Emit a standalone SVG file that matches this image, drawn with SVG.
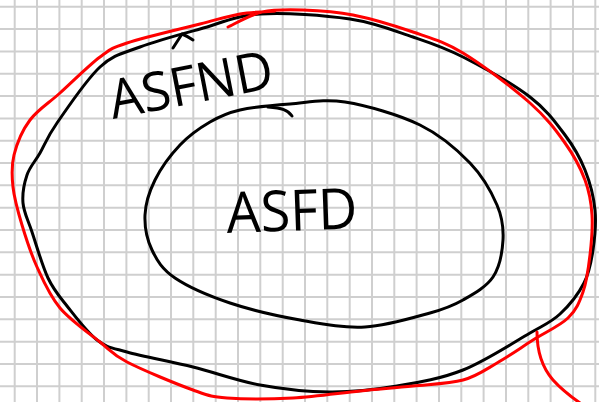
<svg xmlns="http://www.w3.org/2000/svg" width="599" height="402" viewBox="0 0 599 402">
  <style>
    .grid { stroke: #cfcfcf; stroke-width: 2; fill: none; }
    .ink { fill: none; stroke: #000; stroke-width: 3; stroke-linecap: round; stroke-linejoin: round; }
    .red { fill: none; stroke: #ff0000; stroke-width: 3; stroke-linecap: round; stroke-linejoin: round; }
    .label { font-family: "Open Sans", "Liberation Sans", sans-serif; font-weight: 400; fill: #000; }
  </style>
  <rect width="599" height="402" fill="#ffffff"/>
  <!-- squared paper -->
  <path class="grid" d="M14.7 0V402M37 0V402M59.4 0V402M81.7 0V402M104 0V402M126.4 0V402M148.7 0V402M171 0V402M193.3 0V402M215.7 0V402M238 0V402M260.3 0V402M282.7 0V402M305 0V402M327.3 0V402M349.7 0V402M372 0V402M394.3 0V402M416.6 0V402M439 0V402M461.3 0V402M483.6 0V402M506 0V402M528.3 0V402M550.6 0V402M573 0V402M595.3 0V402
    M0 6.7H599M0 29H599M0 51.4H599M0 73.7H599M0 96H599M0 118.4H599M0 140.7H599M0 163H599M0 185.3H599M0 207.7H599M0 230H599M0 252.3H599M0 274.7H599M0 297H599M0 319.3H599M0 341.7H599M0 364H599M0 386.3H599"/>

  <!-- outer set -->
  <g id="asfnd">
    <path class="ink" d="M260,14 C285,12.3 324.5,15.2 350,19 C375.5,22.8 394.2,30.7 413,37 C431.8,43.3 443.5,47 463,57 C482.5,67 513,84 530,97 C547,110 555.8,122.8 565,135 C574.2,147.2 580,157.5 585,170 C590,182.5 593.7,196.7 595,210 C596.3,223.3 594.8,237.8 593,250 C591.2,262.2 589.5,272.3 584,283 C578.5,293.7 569,305.7 560,314 C551,322.3 546.2,323.7 530,333 C513.8,342.3 485.2,361.2 463,370 C440.8,378.8 419.2,382.3 397,386 C374.8,389.7 352.8,392.2 330,392 C307.2,391.8 282.8,389.2 260,385 C237.2,380.8 215.2,372.5 193,367 C170.8,361.5 143,356.5 127,352 C111,347.5 107,347.7 97,340 C87,332.3 75.2,316.3 67,306 C58.8,295.7 53.8,290.3 48,278 C42.2,265.7 36.2,244.5 32,232 C27.8,219.5 23.8,212.5 23,203 C22.2,193.5 24.2,183.3 27,175 C29.8,166.7 35,161.7 40,153 C45,144.3 47,137.3 57,123 C67,108.7 86.2,79.7 100,67 C113.8,54.3 123.3,53.3 140,47 C156.7,40.7 180,34.5 200,29 C220,23.5 235,15.7 260,14 Z"/>
    <path class="ink" d="M173,48 L182,34 Q187,36 193,40"/>
    <text class="label" x="113" y="119" font-size="54" textLength="166" lengthAdjust="spacingAndGlyphs" transform="rotate(-11 113 119)">ASFND</text>
  </g>

  <!-- inner set -->
  <g id="asfd">
    <path class="ink" d="M240,110 C253.3,107 272.5,105.3 290,104 C307.5,102.7 323.3,98.5 345,102 C366.7,105.5 399.2,114.8 420,125 C440.8,135.2 457.2,149.7 470,163 C482.8,176.3 491.5,192.2 497,205 C502.5,217.8 503.7,228 503,240 C502.3,252 499.7,267 493,277 C486.3,287 473.5,294 463,300 C452.5,306 446.3,308.5 430,313 C413.7,317.5 386.7,325.8 365,327 C343.3,328.2 322.5,324 300,320 C277.5,316 250.8,310 230,303 C209.2,296 188,286.8 175,278 C162,269.2 157,260.5 152,250 C147,239.5 144.5,226.7 145,215 C145.5,203.3 149.2,191.7 155,180 C160.8,168.3 170.8,154.7 180,145 C189.2,135.3 200,127.8 210,122 C220,116.2 226.7,113 240,110 Z"/>
    <path class="ink" d="M292,116 C288,110 282,108 268,107"/>
    <text class="label" x="227" y="233" font-size="57" textLength="131" lengthAdjust="spacingAndGlyphs" transform="rotate(-2 227 233)">ASFD</text>
  </g>

  <!-- red outline -->
  <g id="red-loop">
    <path class="red" d="M228,27 C233.7,24.5 249.5,14.8 262,12 C274.5,9.2 287.8,9.5 303,10 C318.2,10.5 334.7,11.3 353,15 C371.3,18.7 394.7,25.7 413,32 C431.3,38.3 443.5,41.2 463,53 C482.5,64.8 513,88 530,103 C547,118 555.8,130.2 565,143 C574.2,155.8 580.5,168 585,180 C589.5,192 591.2,202.5 592,215 C592.8,227.5 591.5,242.2 590,255 C588.5,267.8 586.7,281.5 583,292 C579.3,302.5 576.3,310 568,318 C559.7,326 544.8,332.5 533,340 C521.2,347.5 508.7,356.3 497,363 C485.3,369.7 477,376.2 463,380 C449,383.8 430.2,384.2 413,386 C395.8,387.8 380,389 360,391 C340,393 315.2,396.8 293,398 C270.8,399.2 243.7,399.3 227,398 C210.3,396.7 209.7,396 193,390 C176.3,384 142.5,370 127,362 C111.5,354 111.2,351 100,342 C88.8,333 70.5,320.5 60,308 C49.5,295.5 43.3,280.8 37,267 C30.7,253.2 26,238.3 22,225 C18,211.7 14.3,198.7 13,187 C11.7,175.3 11.2,166.2 14,155 C16.8,143.8 22.3,130.3 30,120 C37.7,109.7 48.3,103.5 60,93 C71.7,82.5 88.8,65.3 100,57 C111.2,48.7 110.3,48.5 127,43 C143.7,37.5 181.2,28.8 200,24 C218.8,19.2 227.5,16.2 240,14 C252.5,11.8 269.2,11.5 275,11"/>
    <path class="red" d="M537,332 C537,345 540,365 553,380 C562,390 570,396 580,403"/>
  </g>
</svg>
